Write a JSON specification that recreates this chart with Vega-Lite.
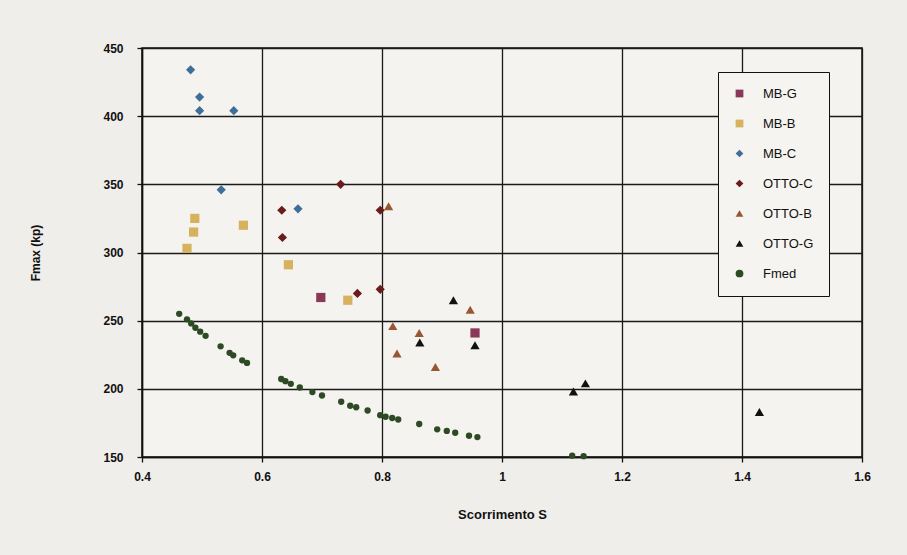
{
  "$schema": "https://vega.github.io/schema/vega-lite/v6.json",
  "autosize": "none",
  "width": 720,
  "height": 409,
  "padding": {"left": 142, "top": 48, "right": 45, "bottom": 98},
  "background": "#efeeea",
  "config": {
    "view": {"fill": "#f4f3ef", "stroke": "#111", "strokeWidth": 1.5},
    "font": "Liberation Sans",
    "axis": {"labelFont": "Liberation Sans", "titleFont": "Liberation Sans", "gridColor": "#1a1a1a", "gridWidth": 1.3, "gridOpacity": 1, "domainColor": "#111", "domainWidth": 1.5, "tickColor": "#111", "tickWidth": 1.3, "tickSize": 5, "labelColor": "#111", "titleColor": "#111", "labelFontWeight": "bold", "titleFontWeight": "bold"}
  },
  "data": {"values": [
    {"series": "MB-G", "s": 0.698, "f": 267},
    {"series": "MB-G", "s": 0.955, "f": 241},
    {"series": "MB-B", "s": 0.488, "f": 325},
    {"series": "MB-B", "s": 0.486, "f": 315},
    {"series": "MB-B", "s": 0.475, "f": 303},
    {"series": "MB-B", "s": 0.569, "f": 320},
    {"series": "MB-B", "s": 0.644, "f": 291},
    {"series": "MB-B", "s": 0.743, "f": 265},
    {"series": "MB-C", "s": 0.481, "f": 434},
    {"series": "MB-C", "s": 0.496, "f": 414},
    {"series": "MB-C", "s": 0.496, "f": 404},
    {"series": "MB-C", "s": 0.553, "f": 404},
    {"series": "MB-C", "s": 0.532, "f": 346},
    {"series": "MB-C", "s": 0.660, "f": 332},
    {"series": "OTTO-C", "s": 0.633, "f": 331},
    {"series": "OTTO-C", "s": 0.634, "f": 311},
    {"series": "OTTO-C", "s": 0.731, "f": 350},
    {"series": "OTTO-C", "s": 0.797, "f": 331},
    {"series": "OTTO-C", "s": 0.759, "f": 270},
    {"series": "OTTO-C", "s": 0.797, "f": 273},
    {"series": "OTTO-B", "s": 0.811, "f": 334},
    {"series": "OTTO-B", "s": 0.818, "f": 246},
    {"series": "OTTO-B", "s": 0.825, "f": 226},
    {"series": "OTTO-B", "s": 0.862, "f": 241},
    {"series": "OTTO-B", "s": 0.889, "f": 216},
    {"series": "OTTO-B", "s": 0.947, "f": 258},
    {"series": "OTTO-G", "s": 0.863, "f": 234},
    {"series": "OTTO-G", "s": 0.919, "f": 265},
    {"series": "OTTO-G", "s": 0.955, "f": 232},
    {"series": "OTTO-G", "s": 1.119, "f": 198},
    {"series": "OTTO-G", "s": 1.139, "f": 204},
    {"series": "OTTO-G", "s": 1.429, "f": 183},
    {"series": "Fmed", "s": 0.462, "f": 255},
    {"series": "Fmed", "s": 0.475, "f": 251},
    {"series": "Fmed", "s": 0.482, "f": 248},
    {"series": "Fmed", "s": 0.489, "f": 244.8},
    {"series": "Fmed", "s": 0.497, "f": 241.9},
    {"series": "Fmed", "s": 0.506, "f": 238.9},
    {"series": "Fmed", "s": 0.531, "f": 231.2},
    {"series": "Fmed", "s": 0.546, "f": 226.4},
    {"series": "Fmed", "s": 0.552, "f": 224.6},
    {"series": "Fmed", "s": 0.567, "f": 220.9},
    {"series": "Fmed", "s": 0.575, "f": 219},
    {"series": "Fmed", "s": 0.632, "f": 207.2},
    {"series": "Fmed", "s": 0.639, "f": 205.6},
    {"series": "Fmed", "s": 0.648, "f": 203.7},
    {"series": "Fmed", "s": 0.663, "f": 201},
    {"series": "Fmed", "s": 0.684, "f": 197.6},
    {"series": "Fmed", "s": 0.700, "f": 195.1},
    {"series": "Fmed", "s": 0.732, "f": 190.5},
    {"series": "Fmed", "s": 0.747, "f": 187.6},
    {"series": "Fmed", "s": 0.757, "f": 186.5},
    {"series": "Fmed", "s": 0.776, "f": 184.1},
    {"series": "Fmed", "s": 0.797, "f": 180.7},
    {"series": "Fmed", "s": 0.806, "f": 179.5},
    {"series": "Fmed", "s": 0.817, "f": 178.6},
    {"series": "Fmed", "s": 0.827, "f": 177.5},
    {"series": "Fmed", "s": 0.862, "f": 174.2},
    {"series": "Fmed", "s": 0.892, "f": 170.3},
    {"series": "Fmed", "s": 0.908, "f": 169.1},
    {"series": "Fmed", "s": 0.922, "f": 167.8},
    {"series": "Fmed", "s": 0.945, "f": 165.6},
    {"series": "Fmed", "s": 0.959, "f": 164.6},
    {"series": "Fmed", "s": 1.117, "f": 151},
    {"series": "Fmed", "s": 1.136, "f": 150.6}
  ]},
  "mark": {"type": "point", "filled": true, "opacity": 1},
  "encoding": {
    "x": {"field": "s", "type": "quantitative",
      "scale": {"domain": [0.4, 1.6], "nice": false, "zero": false},
      "axis": {"values": [0.4, 0.6, 0.8, 1, 1.2, 1.4, 1.6], "format": "~g", "title": "Scorrimento S", "labelFlush": false, "labelFontSize": 12, "titleFontSize": 13, "labelPadding": 9, "titlePadding": 26}},
    "y": {"field": "f", "type": "quantitative",
      "scale": {"domain": [150, 450], "nice": false, "zero": false},
      "axis": {"values": [150, 200, 250, 300, 350, 400, 450], "title": "Fmax (kp)", "labelFontSize": 12, "titleFontSize": 12, "labelPadding": 14, "titlePadding": 60}},
    "color": {"field": "series", "type": "nominal",
      "scale": {"domain": ["MB-G", "MB-B", "MB-C", "OTTO-C", "OTTO-B", "OTTO-G", "Fmed"],
        "range": ["#8a3858", "#d6b25f", "#3f6f98", "#6a1b1b", "#985632", "#111111", "#2e4a24"]},
      "legend": {"title": null, "orient": "none", "legendX": 576, "legendY": 24,
        "fillColor": "#f5f4f0", "strokeColor": "#111", "padding": 15,
        "labelFontSize": 13, "labelColor": "#111", "labelFont": "Liberation Sans", "labelOffset": 17,
        "rowPadding": 16, "symbolSize": 60, "symbolStrokeWidth": 0}},
    "shape": {"field": "series", "type": "nominal",
      "scale": {"domain": ["MB-G", "MB-B", "MB-C", "OTTO-C", "OTTO-B", "OTTO-G", "Fmed"],
        "range": ["square", "square", "diamond", "diamond", "triangle-up", "triangle-up", "circle"]}},
    "size": {"condition": {"test": "datum.series === 'Fmed'", "value": 40}, "value": 85}
  }
}
